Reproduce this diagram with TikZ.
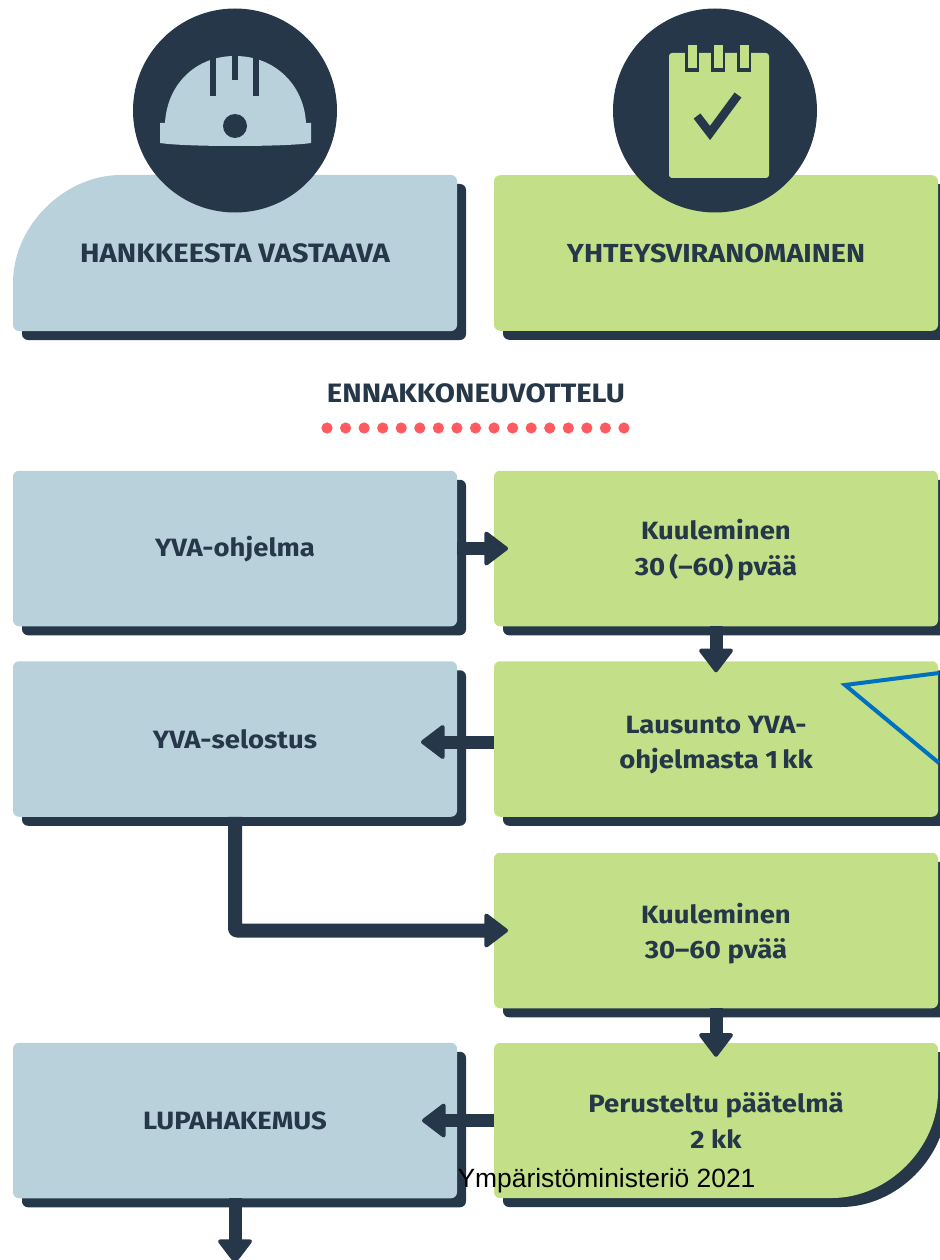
\documentclass[tikz,border=0pt]{standalone}
\usepackage{fontspec}
\setmainfont[FakeStretch=1.1]{Fira Sans}
\newfontfamily\footfont{Liberation Sans}
\usetikzlibrary{arrows.meta,shadows,calc}
\definecolor{navy}{HTML}{253748}
\definecolor{paleblue}{HTML}{B8D1DB}
\definecolor{palegreen}{HTML}{C3E088}
\definecolor{dotred}{HTML}{FF5A5F}
\definecolor{lineblue}{HTML}{0070C0}
\tikzset{
  basebox/.style={rectangle,rounded corners=6pt,minimum width=444pt,minimum height=155.5pt,inner sep=0pt,outer sep=0pt},
  shadowed/.style={general shadow={shadow xshift=9pt,shadow yshift=-9pt,fill=navy}},
  bluebox/.style={basebox,shadowed,fill=paleblue},
  greenbox/.style={basebox,shadowed,fill=palegreen},
  boxlabel/.style={text=navy,align=center,inner sep=0pt,font=\fontsize{25}{35.5}\selectfont\bfseries},
  headlabel/.style={text=navy,align=center,inner sep=0pt,font=\fontsize{26.6}{30}\selectfont\bfseries},
  flow/.style={draw=navy,line width=13pt,line join=round,-{Triangle[length=25pt,width=37pt,round,line width=4pt]}},
}
\begin{document}
\begin{tikzpicture}[x=1pt,y=-1pt]
\useasboundingbox (0,0) rectangle (939,1260);
% special shapes
\fill[navy,rounded corners=6pt] (22,340) -- (22,298) .. controls (22,235) and (73,184) .. (136,184) -- (466,184) -- (466,340) -- cycle;
\fill[paleblue,rounded corners=6pt] (13,331) -- (13,289) .. controls (13,226) and (64,175) .. (127,175) -- (457,175) -- (457,331) -- cycle;
\fill[navy,rounded corners=6pt] (503,1052) -- (947,1052) -- (947,1095) .. controls (947,1157) and (897,1207) .. (835,1207) -- (503,1207) -- cycle;
\fill[palegreen,rounded corners=6pt] (494,1043) -- (938,1043) -- (938,1086) .. controls (938,1148) and (888,1198) .. (826,1198) -- (494,1198) -- cycle;
% boxes
\node[basebox] (hank) at (235,253) {};
\node[greenbox] (yht) at (716,253) {};
\node[bluebox] (ohj) at (235,548.5) {};
\node[greenbox] (kuula) at (716,548.5) {};
\node[bluebox] (sel) at (235,739) {};
\node[greenbox] (laus) at (716,739) {};
\node[greenbox] (kuulb) at (716,930.5) {};
\node[bluebox] (lupa) at (235,1120.5) {};
\node[basebox] (per) at (716,1120.5) {};
% box texts
\node[headlabel] (thank) at (235,253) {HANKKEESTA VASTAAVA};
\node[headlabel,font=\fontsize{26.1}{30}\selectfont\bfseries] (tyht) at (716,253) {YHTEYSVIRANOMAINEN};
\node[boxlabel] (tohj) at (235,549) {YVA-ohjelma};
\node[boxlabel] (tkuula) at (716,550) {Kuuleminen\\30\,(–60)\,pvää};
\node[boxlabel] (tsel) at (235,739) {YVA-selostus};
\node[boxlabel] (tlaus) at (716,745) {Lausunto YVA-\\ohjelmasta 1\,kk};
\node[boxlabel] (tkuulb) at (716,933.5) {Kuuleminen\\30–60 pvää};
\node[boxlabel] (tlupa) at (235,1120.5) {LUPAHAKEMUS};
\node[boxlabel] (tper) at (716,1120.5) {Perusteltu päätelmä\\2 kk};
% heading
\node[headlabel] (enn) at (476,393) {ENNAKKONEUVOTTELU};
\foreach \i in {0,...,16} \fill[dotred] ({327+\i*18.56},428) circle (5.6);
% connectors
\coordinate (lupaend) at (235,1263);
\draw[flow,shorten >=-14pt] (ohj.east) -- (kuula.west);
\draw[flow,shorten >=-11pt] (kuula.south) -- (laus.north);
\draw[flow,shorten >=-36pt] ([yshift=-3pt]laus.west) -- ([yshift=-3pt]sel.east);
\draw[flow,line width=14pt,rounded corners=2pt,shorten >=-14pt] (sel.south) |- (kuulb.west);
\draw[flow,shorten >=-14pt] (kuulb.south) -- (per.north);
\draw[flow,shorten >=-35pt] (per.west) -- (lupa.east);
\draw[flow] (lupa.south) -- (lupaend);
% helmet icon
\node[circle,fill=navy,minimum size=204pt,inner sep=0pt] (helmet) at (235,110.5) {};
\fill[paleblue] (165,123) .. controls (167,85) and (195,56) .. (235,56) .. controls (275,56) and (304,85) .. (306,123) -- (311,123) -- (311,143) .. controls (285,147) and (185,147) .. (160,143) -- (160,123) -- cycle;
\fill[navy] (210,54) rectangle (216,96);
\fill[navy] (232,54) rectangle (238,80);
\fill[navy] (253,54) rectangle (259,96);
\fill[navy] (235,126) circle (12);
% notepad icon
\node[circle,fill=navy,minimum size=204pt,inner sep=0pt] (pad) at (715,110.5) {};
\fill[palegreen,rounded corners=3pt] (669,53) rectangle (769,178);
\foreach \c in {692,718,744} {
  \fill[navy] (\c-7,50) rectangle (\c+7,72);
  \fill[palegreen] (\c-4.5,45) rectangle (\c+4.5,68);
}
\draw[navy,line width=8.5pt,line join=miter] (697,116) -- (710,133) -- (738,95);
% blue callout lines
\draw[lineblue,line width=4pt,miter limit=10] (939,673) -- (845,685) -- (939,763);
% footer
\node[font=\fontsize{26.4}{30}\selectfont\footfont,text=black,inner sep=0pt] (foot) at (606.5,1181) {Ympäristöministeriö 2021};
\end{tikzpicture}
\end{document}
